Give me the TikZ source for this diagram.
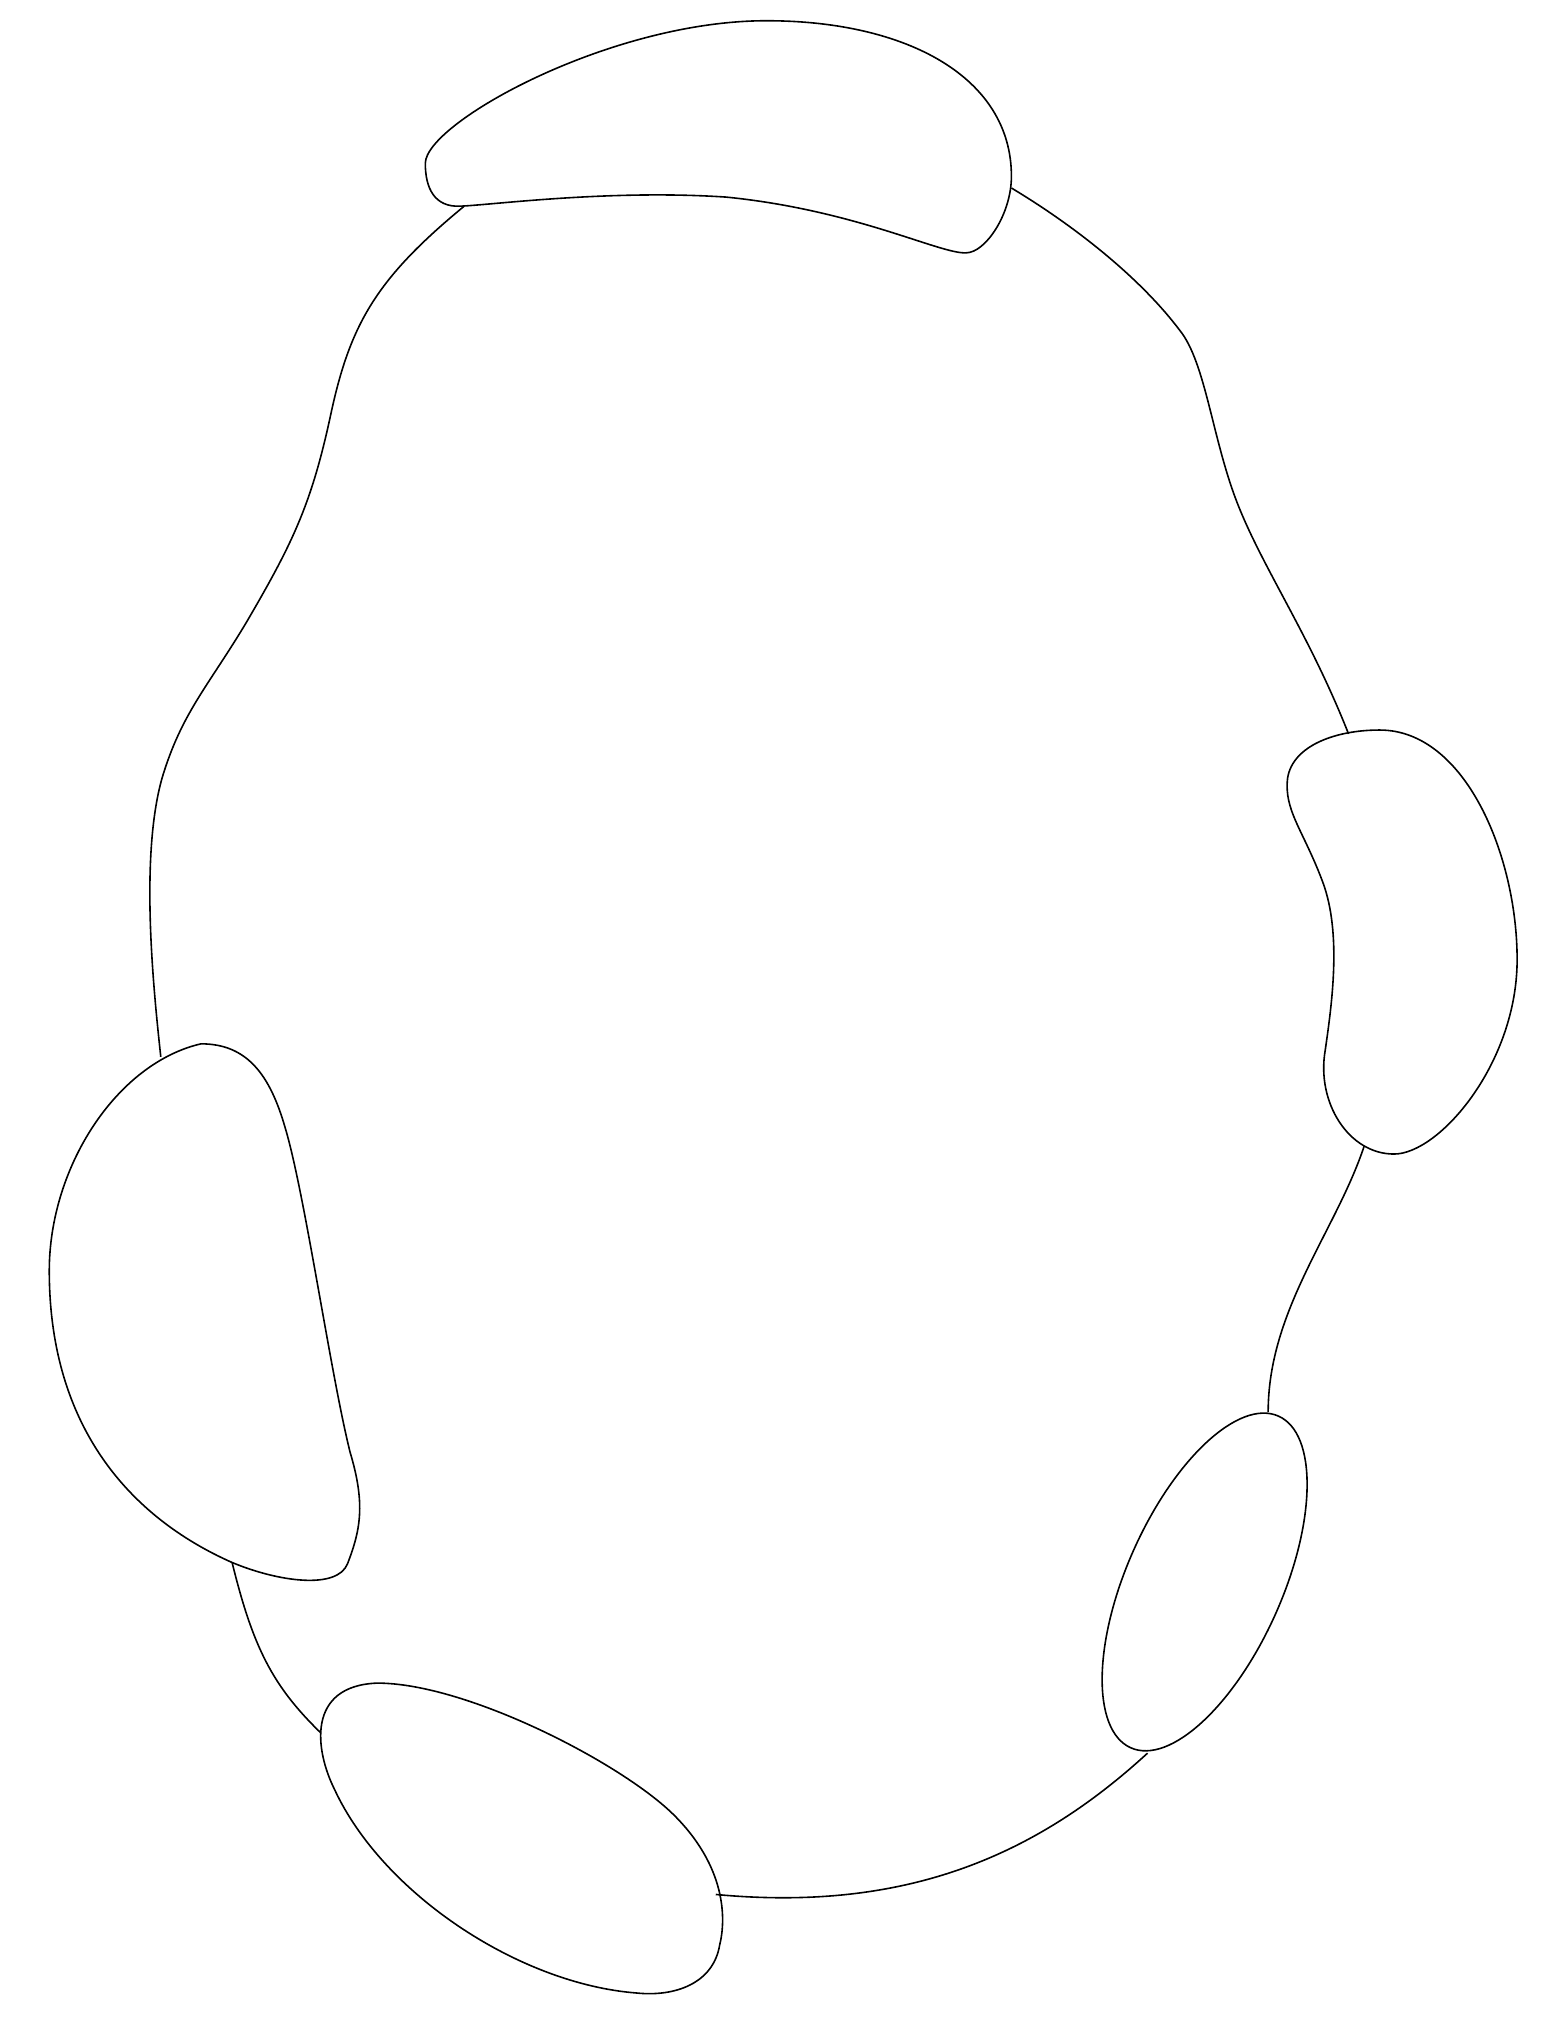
\documentclass[tikz,border=0pt]{standalone}
\begin{document}
\begin{tikzpicture}[x=0.01cm,y=-0.01cm]
		\tikzset{blob/.style={line width=0.35pt, black}, ring/.style={line width=0.35pt, black}}
		\useasboundingbox (0,0) rectangle (1200,1564);
		% blobs
		\draw[blob] (328,126) .. controls (328,95) and (470,16) .. (591,16) .. controls (700,16) and (780,60) .. (780,136) .. controls (780,165) and (760,195) .. (745,195) .. controls (725,196) and (660,162) .. (560,152) .. controls (470,146) and (380,158) .. (355,159) .. controls (335,160) and (328,145) .. cycle;
		\draw[blob] (155,805) .. controls (190,805) and (208,828) .. (220,870) .. controls (235,920) and (255,1060) .. (270,1120) .. controls (282,1160) and (278,1180) .. (268,1206) .. controls (260,1226) and (215,1220) .. (179,1205) .. controls (100,1170) and (38,1100) .. (38,980) .. controls (38,900) and (90,820) .. cycle;
		\draw[blob] (1064,563) .. controls (1130,563) and (1170,660) .. (1170,740) .. controls (1170,820) and (1110,890) .. (1075,890) .. controls (1040,890) and (1015,850) .. (1022,810) .. controls (1027,775) and (1035,720) .. (1020,680) .. controls (1005,640) and (990,625) .. (993,600) .. controls (997,575) and (1030,563) .. cycle;
		\draw[blob, rotate around={66:(929,1220)}] (929,1220) ellipse (140 and 60);
		\draw[blob] (291,1298) .. controls (360,1298) and (480,1360) .. (520,1400) .. controls (560,1440) and (560,1480) .. (555,1500) .. controls (550,1530) and (520,1540) .. (491,1537) .. controls (400,1530) and (295,1460) .. (258,1380) .. controls (243,1350) and (236,1300) .. cycle;
		% ring
		\coordinate (topL) at (358,159);
		\coordinate (topR) at (780,145);
		\coordinate (leftT) at (124,815);
		\coordinate (leftB) at (179,1205);
		\coordinate (botL) at (247,1336);
		\coordinate (botR) at (552,1461);
		\coordinate (brB) at (885,1352);
		\coordinate (brT) at (978,1089);
		\coordinate (rightB) at (1052,884);
		\coordinate (rightT) at (1040,566);
		\draw[ring] (topL) .. controls (290,215) and (270,250) .. (255,320) .. controls (240,390) and (225,420) .. (190,480) .. controls (160,530) and (140,550) .. (125,600) .. controls (108,660) and (118,760) .. (leftT);
		\draw[ring] (leftB) .. controls (195,1270) and (210,1300) .. (botL);
		\draw[ring] (botR) .. controls (700,1475) and (800,1430) .. (brB);
		\draw[ring] (brT) .. controls (978,1010) and (1030,950) .. (rightB);
		\draw[ring] (rightT) .. controls (1010,490) and (975,440) .. (955,390) .. controls (935,340) and (930,280) .. (910,255) .. controls (880,215) and (830,175) .. (topR);
	\end{tikzpicture}
\end{document}
